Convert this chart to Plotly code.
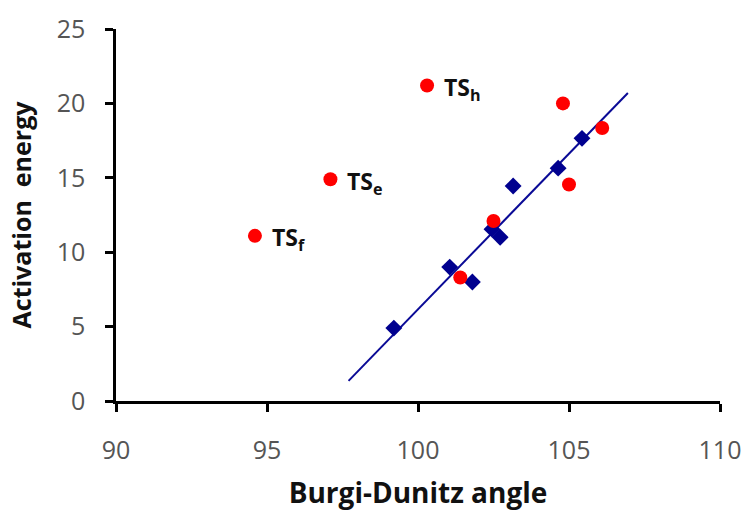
import plotly.graph_objects as go

# Red circles (other TS)
red_x = [94.6, 97.1, 100.3, 104.8, 106.1, 105.0, 102.5, 101.4]
red_y = [11.1, 14.9, 21.2, 20.0, 18.35, 14.55, 12.1, 8.3]

# Blue diamonds
blue_x = [99.2, 101.05, 101.8, 102.45, 102.72, 103.15, 104.64, 105.43]
blue_y = [4.9, 9.0, 8.0, 11.55, 11.0, 14.45, 15.65, 17.65]

# Trend line endpoints
line_x = [97.7, 106.95]
line_y = [1.35, 20.7]

# Labels
label_text = ["TS<sub>f</sub>", "TS<sub>e</sub>", "TS<sub>h</sub>"]
label_x = [94.6, 97.1, 100.3]
label_y = [11.1, 14.9, 21.2]

x_ticks = [90, 95, 100, 105, 110]
y_ticks = [0, 5, 10, 15, 20, 25]

fig = go.Figure()
fig.add_trace(go.Scatter(x=line_x, y=line_y, mode="lines",
                         line=dict(color="#0a0a96", width=2), showlegend=False))
fig.add_trace(go.Scatter(x=blue_x, y=blue_y, mode="markers",
                         marker=dict(symbol="diamond", size=13, color="#00008f"),
                         showlegend=False))
fig.add_trace(go.Scatter(x=red_x, y=red_y, mode="markers",
                         marker=dict(symbol="circle", size=14, color="#ff0000"),
                         showlegend=False))

for t, x, y in zip(label_text, label_x, label_y):
    fig.add_annotation(x=x, y=y, text=t, showarrow=False, xanchor="left",
                       xshift=15, yshift=-3,
                       font=dict(family="Open Sans", size=23, color="#111111", weight="bold"))

font_fam = "Open Sans"
fig.update_layout(
    width=746, height=515,
    margin=dict(l=116, r=26, t=29, b=114),
    plot_bgcolor="white", paper_bgcolor="white",
    font=dict(family=font_fam),
    xaxis=dict(range=[90, 110], tickvals=x_ticks, showgrid=False, zeroline=False,
               automargin=False,
               showline=True, linecolor="black", linewidth=2.5,
               ticks="outside", ticklen=8, tickwidth=2.5, tickcolor="black",
               tickfont=dict(size=25, color="#555555"), ticklabelstandoff=17,
               title=dict(text="Burgi-Dunitz angle", standoff=19,
                          font=dict(size=28, color="#111111", weight="bold"))),
    yaxis=dict(range=[0, 25], tickvals=y_ticks, showgrid=False, zeroline=False,
               automargin=False,
               showline=True, linecolor="black", linewidth=2.5,
               ticks="outside", ticklen=8, tickwidth=2.5, tickcolor="black",
               tickfont=dict(size=25, color="#555555"), ticklabelstandoff=15,
               title=dict(text="Activation  energy", standoff=18,
                          font=dict(size=25, color="#111111", weight="bold"))),
)

fig.write_html("out.html", config={"displayModeBar": False},
               post_script="document.body.style.margin='0';")
